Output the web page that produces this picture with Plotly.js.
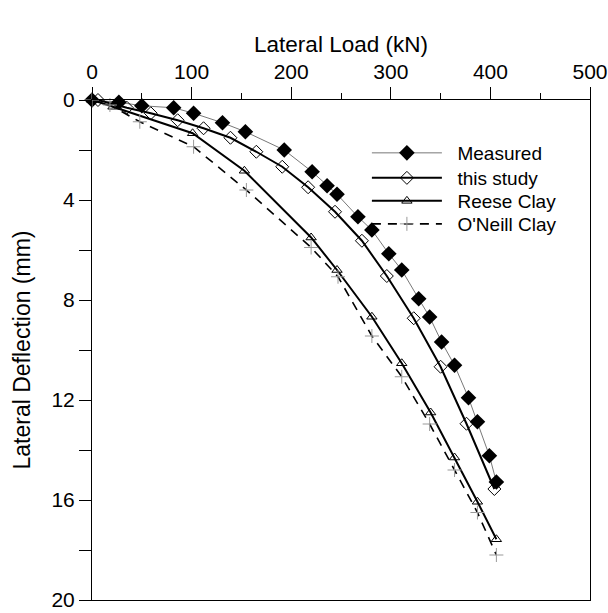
<!DOCTYPE html>
<html>
<head>
<meta charset="utf-8">
<script src="https://cdn.plot.ly/plotly-3.0.1.min.js"></script>
<style>html,body{margin:0;padding:0;background:#fff;}#chart{width:608px;height:613px;}</style>
</head>
<body>
<div id="chart"></div>
<script>
// Measured
const measuredLoad = [0, 27, 50, 82, 102, 131, 154, 193, 221, 236, 246, 267, 281, 298, 311, 328, 339, 351, 364, 378, 387, 399, 406];
const measuredDefl = [0, 0.09, 0.23, 0.31, 0.53, 0.91, 1.27, 2.0, 2.87, 3.43, 3.77, 4.67, 5.2, 6.15, 6.8, 7.95, 8.68, 9.68, 10.61, 11.91, 12.87, 14.23, 15.28];
// this study
const studyLoad = [0, 6, 35, 59, 86, 112, 139, 165, 191, 217, 244, 271, 296, 323, 350, 376, 404];
const studyDefl = [0, 0, 0.31, 0.53, 0.81, 1.13, 1.51, 2.07, 2.67, 3.49, 4.47, 5.63, 7.04, 8.73, 10.67, 12.95, 15.56];
// Reese Clay
const reeseLoad = [0, 21, 101, 153, 220, 246, 281, 311, 340, 364, 387, 406];
const reeseDefl = [0, 0.27, 1.33, 2.83, 5.5, 6.8, 8.67, 10.53, 12.5, 14.3, 16.07, 17.57];
// O'Neill Clay
const oneillLoad = [0, 18, 48, 102, 155, 220, 247, 281, 311, 339, 364, 387, 406];
const oneillDefl = [0, 0.2, 0.87, 1.87, 3.6, 5.9, 7.07, 9.44, 11.07, 12.96, 14.8, 16.5, 18.2];

const seriesNames = ['Measured', 'this study', 'Reese Clay', "O'Neill Clay"];

const xTickVals = [0, 100, 200, 300, 400, 500];
const xTickText = ['0', '100', '200', '300', '400', '500'];
const yTickVals = [0, 2, 4, 6, 8, 10, 12, 14, 16, 18, 20];
const yTickText = ['0', '', '4', '', '8', '', '12', '', '16', '', '20'];

const FONT = 'Liberation Sans, Arial, sans-serif';
const GAP = '\u00a0\u00a0';

const traces = [
  {x: measuredLoad, y: measuredDefl, name: GAP + seriesNames[0], mode: 'lines+markers', legend: 'legend',
   line: {color: '#555', width: 0.8},
   marker: {symbol: 'diamond', size: 12, color: '#000', line: {color: '#000', width: 0}},
   cliponaxis: false},
  {x: studyLoad, y: studyDefl, name: GAP + seriesNames[1], mode: 'lines+markers', legend: 'legend2',
   line: {color: '#000', width: 2},
   marker: {symbol: 'diamond-open', size: 10, color: '#000', line: {color: '#000', width: 1}},
   cliponaxis: false},
  {x: reeseLoad, y: reeseDefl, name: GAP + seriesNames[2], mode: 'lines+markers', legend: 'legend3',
   line: {color: '#000', width: 2},
   marker: {symbol: 'triangle-up-open', size: 9, color: '#000', line: {color: '#000', width: 1}},
   cliponaxis: false},
  {x: oneillLoad, y: oneillDefl, name: GAP + seriesNames[3], mode: 'lines+markers', legend: 'legend4',
   line: {color: '#000', width: 1.6, dash: '9px,7px'},
   marker: {symbol: 'cross-thin-open', size: 10, color: '#999', line: {color: '#999', width: 1}},
   cliponaxis: false}
];

function leg(y) {
  return {x: 0.552, y: y, xanchor: 'left', yanchor: 'middle', bgcolor: 'rgba(0,0,0,0)',
          font: {family: FONT, size: 19, color: '#000'}, itemwidth: 70};
}

const layout = {
  width: 608, height: 613,
  margin: {l: 92, r: 18, t: 100, b: 13},
  paper_bgcolor: '#fff', plot_bgcolor: '#fff',
  font: {family: FONT, size: 21, color: '#000'},
  showlegend: true,
  legend: leg((600 - 153) / 500),
  legend2: leg((600 - 178) / 500),
  legend3: leg((600 - 201) / 500),
  legend4: leg((600 - 224) / 500),
  xaxis: {
    side: 'top', range: [0, 500], autorange: false,
    tickvals: xTickVals, ticktext: xTickText,
    ticks: 'outside', ticklen: 12, tickwidth: 1, tickcolor: '#000',
    minor: {dtick: 50, tick0: 0, ticks: 'outside', ticklen: 6, tickcolor: '#000', showgrid: false},
    showline: true, linecolor: '#000', linewidth: 1, mirror: true,
    showgrid: false, zeroline: false,
    tickfont: {family: FONT, size: 21, color: '#000'},
    title: {text: 'Lateral Load (kN)', font: {family: FONT, size: 22.5, color: '#000'}, standoff: 0}
  },
  yaxis: {
    range: [20, 0], autorange: false,
    tickvals: yTickVals, ticktext: yTickText,
    ticks: 'outside', ticklen: 12, tickwidth: 1, tickcolor: '#000',
    showline: true, linecolor: '#000', linewidth: 1, mirror: true,
    showgrid: false, zeroline: false,
    tickfont: {family: FONT, size: 21, color: '#000'},
    title: {text: 'Lateral Deflection (mm)', font: {family: FONT, size: 23, color: '#000'}, standoff: 14}
  }
};

Plotly.newPlot('chart', traces, layout, {displayModeBar: false, staticPlot: true});
</script>
</body>
</html>
